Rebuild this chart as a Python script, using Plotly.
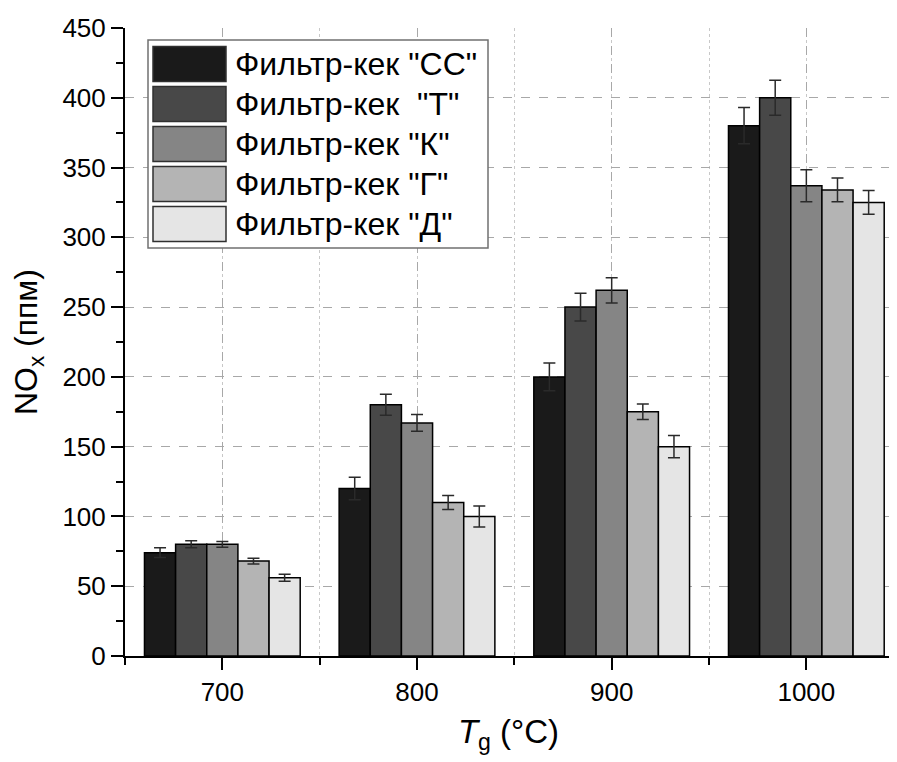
import plotly.graph_objects as go

temps = [700, 800, 900, 1000]
series_names = ['Фильтр-кек "СС"', 'Фильтр-кек  "Т"', 'Фильтр-кек "К"', 'Фильтр-кек "Г"', 'Фильтр-кек "Д"']
values_cc = [74, 120, 200, 380]
values_t = [80, 180, 250, 400]
values_k = [80, 167, 262, 337]
values_g = [68, 110, 175, 334]
values_d = [56, 100, 150, 325]
err_cc = [3.5, 8, 10, 13]
err_t = [2.5, 7.5, 10, 12.5]
err_k = [2, 6, 9, 11.5]
err_g = [2, 5, 5.5, 8.5]
err_d = [2.5, 7.5, 8, 8.5]
colors = ['#1a1a1a', '#484848', '#858585', '#b4b4b4', '#e5e5e5']

all_values = [values_cc, values_t, values_k, values_g, values_d]
all_errs = [err_cc, err_t, err_k, err_g, err_d]

FONT = "Liberation Sans, Arial, sans-serif"
# page has an 8px body margin -> figure is 8px smaller on each used side
W, H = 889, 754
L, R, T, B = 117, 5, 20, 106

fig = go.Figure()
for name, vals, errs, col in zip(series_names, all_values, all_errs, colors):
    fig.add_trace(go.Bar(
        x=temps, y=vals, name=name, showlegend=False,
        marker=dict(color=col, line=dict(color='#000000', width=1.5)),
        error_y=dict(type='data', array=errs, visible=True,
                     color='#2a2a2a', thickness=1.5, width=6),
    ))

xr = [650, 1044]
yr = [0, 450]

fig.update_layout(
    width=W, height=H,
    margin=dict(l=L, r=R, t=T, b=B, pad=0),
    paper_bgcolor='white', plot_bgcolor='white',
    barmode='group', bargap=0.2, bargroupgap=0,
    font=dict(family=FONT, size=26, color='#000000'),
    xaxis=dict(
        range=xr, tickvals=temps, ticks='outside', ticklen=12, tickwidth=2,
        tickcolor='black', showline=True, linecolor='black', linewidth=2,
        showgrid=True, gridcolor='#a8a8a8', griddash='dash', gridwidth=1,
        zeroline=False, tickfont=dict(size=26, family=FONT),
        minor=dict(dtick=50, tick0=650, ticks='outside', ticklen=7, tickwidth=2,
                   tickcolor='black', showgrid=True, gridcolor='#c8c8c8',
                   griddash='dot', gridwidth=1),
        title=dict(text='<i>T</i><sub>g</sub> (°C)', font=dict(size=33, family=FONT),
                   standoff=14),
    ),
    yaxis=dict(
        range=yr, dtick=50, tick0=0, ticks='outside', ticklen=12, tickwidth=2,
        tickcolor='black', showline=True, linecolor='black', linewidth=2,
        showgrid=True, gridcolor='#a8a8a8', griddash='dash', gridwidth=1,
        zeroline=False, tickfont=dict(size=26, family=FONT),
        minor=dict(dtick=25, tick0=0, ticks='outside', ticklen=7, tickwidth=2,
                   tickcolor='black', showgrid=False),
        title=dict(text='NO<sub>x</sub> (ппм)', font=dict(size=32, family=FONT),
                   standoff=16),
    ),
    xaxis2=dict(
        range=xr, overlaying='x', side='top', anchor='y', tickvals=temps,
        ticks='inside', ticklen=10, tickwidth=2, tickcolor='black',
        showticklabels=False, showline=True, linecolor='black', linewidth=2,
        showgrid=False, zeroline=False,
        minor=dict(dtick=50, tick0=650, ticks='inside', ticklen=6, tickwidth=2,
                   tickcolor='black', showgrid=False),
    ),
    yaxis2=dict(
        range=yr, overlaying='y', side='right', anchor='x', dtick=50, tick0=0,
        ticks='inside', ticklen=10, tickwidth=2, tickcolor='black',
        showticklabels=False, showline=True, linecolor='black', linewidth=2,
        showgrid=False, zeroline=False,
        minor=dict(dtick=25, tick0=0, ticks='inside', ticklen=6, tickwidth=2,
                   tickcolor='black', showgrid=False),
    ),
)

# custom legend (large swatches like the reference); positions in page pixels
pw, ph = W - L - R, H - T - B
def px_x(v):
    return (v - 8 - L) / pw
def px_y(v):
    return (H - B - (v - 8)) / ph

shapes = [dict(type='rect', xref='paper', yref='paper', layer='above',
               x0=px_x(148), x1=px_x(488), y0=px_y(248), y1=px_y(40),
               fillcolor='white', line=dict(color='#707070', width=1.5))]
annotations = []
for i, (name, col) in enumerate(zip(series_names, colors)):
    cy = 64 + 40 * i
    shapes.append(dict(type='rect', xref='paper', yref='paper', layer='above',
                       x0=px_x(153), x1=px_x(226), y0=px_y(cy + 17.5), y1=px_y(cy - 17.5),
                       fillcolor=col, line=dict(color='#303030', width=1.5)))
    annotations.append(dict(xref='paper', yref='paper', x=px_x(233), y=px_y(cy),
                            xanchor='left', yanchor='middle', showarrow=False,
                            text=name.replace('  ', ' \u00a0'),
                            font=dict(size=32, family=FONT, color='black')))
fig.update_layout(shapes=shapes, annotations=annotations)

fig.write_html("out.html")
